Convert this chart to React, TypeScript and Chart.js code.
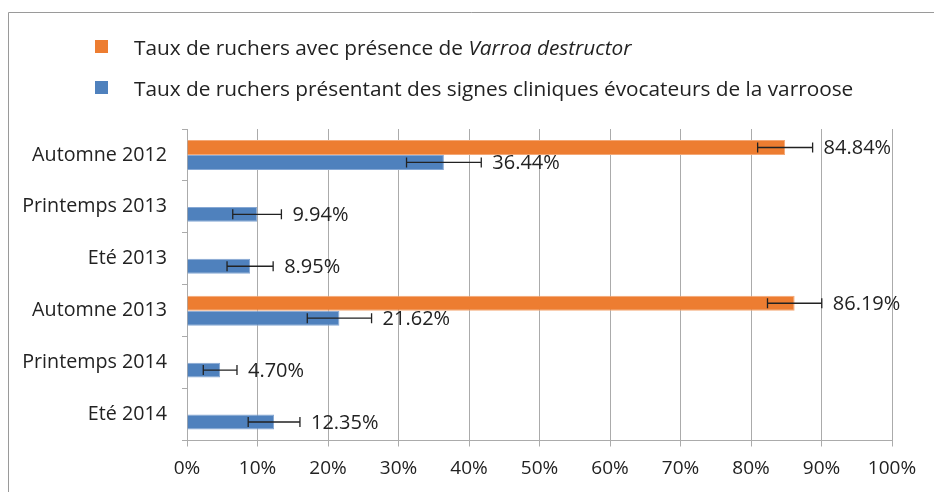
import { useEffect, useRef } from 'react';
import { Chart, registerables } from 'chart.js';

Chart.register(...registerables);

// ---- data ----
const categories = [
  'Automne 2012',
  'Printemps 2013',
  'Eté 2013',
  'Automne 2013',
  'Printemps 2014',
  'Eté 2014',
];
const presenceValues: (number | null)[] = [84.84, null, null, 86.19, null, null];
const presenceErrors: (number | null)[] = [3.9, null, null, 3.85, null, null];
const clinicalValues: (number | null)[] = [36.44, 9.94, 8.95, 21.62, 4.7, 12.35];
const clinicalErrors: (number | null)[] = [5.3, 3.45, 3.27, 4.56, 2.39, 3.67];
const xTickValues = [0, 10, 20, 30, 40, 50, 60, 70, 80, 90, 100];

const legendPresencePlain = 'Taux de ruchers avec présence de ';
const legendPresenceItalic = 'Varroa destructor';
const legendClinical = 'Taux de ruchers présentant des signes cliniques évocateurs de la varroose';

const ORANGE = '#ED7D31';
const BLUE = '#4F81BD';
const FONT = '"Open Sans", sans-serif';
const TEXT = '#222222';
const GRID = '#ababab';

export default function App() {
  const ref = useRef<HTMLCanvasElement>(null);

  useEffect(() => {
    document.body.style.margin = '0';
    const canvas = ref.current!;

    const framePlugin = {
      id: 'frame',
      beforeDraw(chart: any) {
        const ctx = chart.ctx;
        ctx.save();
        ctx.fillStyle = '#ffffff';
        ctx.fillRect(0, 0, chart.width, chart.height);
        ctx.strokeStyle = '#9a9a9a';
        ctx.lineWidth = 1;
        ctx.beginPath();
        ctx.moveTo(8.5, chart.height);
        ctx.lineTo(8.5, 12.5);
        ctx.lineTo(chart.width, 12.5);
        ctx.stroke();
        ctx.restore();
      },
    };

    const legendPlugin = {
      id: 'customLegend',
      afterDraw(chart: any) {
        const ctx = chart.ctx;
        ctx.save();
        const items = [
          { color: ORANGE, y: 40, parts: [{ t: legendPresencePlain, i: false }, { t: legendPresenceItalic, i: true }] },
          { color: BLUE, y: 81, parts: [{ t: legendClinical, i: false }] },
        ];
        items.forEach((it) => {
          ctx.fillStyle = it.color;
          ctx.fillRect(95, it.y, 13, 13);
          let x = 134;
          ctx.fillStyle = TEXT;
          ctx.textBaseline = 'alphabetic';
          ctx.textAlign = 'left';
          it.parts.forEach((p) => {
            ctx.font = `${p.i ? 'italic ' : ''}20.8px ${FONT}`;
            ctx.fillText(p.t, x, it.y + 14.5);
            x += ctx.measureText(p.t).width;
          });
        });
        ctx.restore();
      },
    };

    const errorBarsPlugin = {
      id: 'errorBars',
      afterDatasetsDraw(chart: any) {
        const ctx = chart.ctx;
        const xs = chart.scales.x;
        chart.data.datasets.forEach((ds: any, di: number) => {
          const meta = chart.getDatasetMeta(di);
          meta.data.forEach((el: any, i: number) => {
            const v = ds.data[i];
            const e = ds.errors[i];
            if (v == null || e == null) return;
            const y = el.y;
            const x0 = xs.getPixelForValue(v - e);
            const x1 = xs.getPixelForValue(v + e);
            ctx.save();
            ctx.strokeStyle = TEXT;
            ctx.lineWidth = 1.3;
            ctx.beginPath();
            ctx.moveTo(x0, y);
            ctx.lineTo(x1, y);
            ctx.moveTo(x0, y - 5);
            ctx.lineTo(x0, y + 5);
            ctx.moveTo(x1, y - 5);
            ctx.lineTo(x1, y + 5);
            ctx.stroke();
            ctx.font = `20px ${FONT}`;
            ctx.fillStyle = TEXT;
            ctx.textAlign = 'left';
            ctx.textBaseline = 'middle';
            ctx.fillText(v.toFixed(2) + '%', x1 + 11, y + 1);
            ctx.restore();
          });
        });
      },
    };

    const chart = new Chart(canvas, {
      type: 'bar',
      data: {
        labels: categories,
        datasets: [
          {
            label: legendPresencePlain + legendPresenceItalic,
            data: presenceValues,
            errors: presenceErrors,
            backgroundColor: ORANGE,
            borderColor: '#F4A876',
            borderWidth: 1,
            categoryPercentage: 0.575,
            barPercentage: 1,
          } as any,
          {
            label: legendClinical,
            data: clinicalValues,
            errors: clinicalErrors,
            backgroundColor: BLUE,
            borderColor: '#86A8D4',
            borderWidth: 1,
            categoryPercentage: 0.575,
            barPercentage: 1,
          } as any,
        ],
      },
      options: {
        indexAxis: 'y',
        responsive: false,
        animation: false,
        devicePixelRatio: 1,
        layout: { padding: { top: 129, right: 42, bottom: 0, left: 0 } },
        plugins: {
          legend: { display: false },
          tooltip: { enabled: false },
        },
        scales: {
          x: {
            min: 0,
            max: 100,
            afterBuildTicks(scale: any) {
              scale.ticks = xTickValues.map((v) => ({ value: v }));
            },
            afterFit(scale: any) {
              scale.height = 51.5;
            },
            ticks: {
              color: TEXT,
              font: { family: FONT, size: 19 },
              padding: 11,
              maxRotation: 0,
              callback: (v: any) => v + '%',
            },
            grid: { color: GRID, lineWidth: 1, tickLength: 6, drawTicks: true },
            border: { color: GRID, width: 1 },
          },
          y: {
            afterFit(scale: any) {
              scale.width = 187;
            },
            ticks: {
              color: TEXT,
              font: { family: FONT, size: 19.7 },
              padding: 15,
            },
            grid: { drawOnChartArea: false, drawTicks: true, tickLength: 5, color: GRID, offset: true },
            border: { color: GRID, width: 1 },
          },
        },
      } as any,
      plugins: [framePlugin, legendPlugin, errorBarsPlugin],
    });
    return () => chart.destroy();
  }, []);

  return (
    <div style={{ width: 934, height: 492, background: '#fff' }}>
      <canvas ref={ref} width={934} height={492} style={{ display: 'block' }} />
    </div>
  );
}
